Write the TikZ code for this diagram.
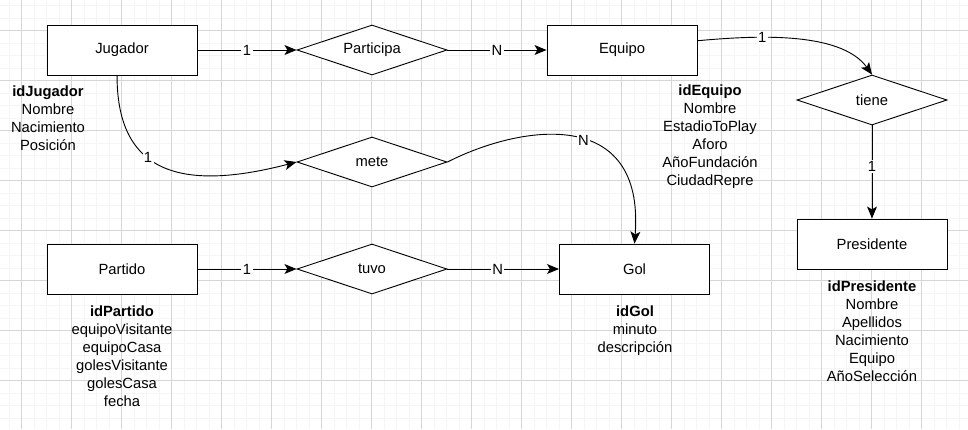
\documentclass[tikz,border=0pt]{standalone}
\usepackage{fontspec}
\setmainfont{Liberation Sans}
\usetikzlibrary{shapes.geometric,arrows.meta}

\colorlet{minorgrid}{black!4}
\colorlet{majorgrid}{black!16}

\tikzset{
    entidad/.style={draw, line width=0.65pt, fill=white, minimum width=3.75cm, minimum height=1.25cm, inner sep=0pt},
    relacion/.style={draw, diamond, aspect=3, line width=0.65pt, fill=white, minimum width=3.75cm, minimum height=1.25cm, inner sep=0pt},
    atributos/.style={align=center, inner sep=0pt},
    card/.style={fill=white, inner sep=1pt},
    flecha/.style={line width=0.65pt, -{Stealth[length=8.5pt, width=7pt, inset=2pt]}},
}

\begin{document}
\begin{tikzpicture}[x=0.025cm, y=-0.025cm, font=\fontsize{10.5}{12.8}\selectfont]
    \useasboundingbox[fill=white] (0,0) rectangle (968,429);

    % grid
    \foreach \gx in {9.2,21.7,...,968} \draw[minorgrid, line width=0.4pt] (\gx,0) -- (\gx,429);
    \foreach \gy in {5.7,18.2,...,429} \draw[minorgrid, line width=0.4pt] (0,\gy) -- (968,\gy);
    \foreach \gx in {21.7,71.7,...,968} \draw[majorgrid, line width=0.4pt] (\gx,0) -- (\gx,429);
    \foreach \gy in {30.7,80.7,...,429} \draw[majorgrid, line width=0.4pt] (0,\gy) -- (968,\gy);

    \node[entidad] (jugador) at (122,50) {Jugador};
    \node[relacion] (participa) at (372,50) {Participa};
    \node[entidad] (equipo) at (622,50) {Equipo};
    \node[relacion] (tiene) at (872,100) {tiene};
    \node[entidad] (presidente) at (872,244) {Presidente};
    \node[relacion] (mete) at (372,162) {mete};
    \node[entidad] (partido) at (122,269) {Partido};
    \node[relacion] (tuvo) at (372,269) {tuvo};
    \node[entidad] (gol) at (634.5,269) {Gol};

    \node[atributos] (atrJugador) at (48,118.5) {\textbf{idJugador}\\Nombre\\Nacimiento\\Posición};
    \node[atributos] (atrEquipo) at (710,137) {\textbf{idEquipo}\\Nombre\\EstadioToPlay\\Aforo\\AñoFundación\\CiudadRepre};
    \node[atributos] (atrPartido) at (122,356.5) {\textbf{idPartido}\\equipoVisitante\\equipoCasa\\golesVisitante\\golesCasa\\fecha};
    \node[atributos] (atrGol) at (635,331) {\textbf{idGol}\\minuto\\descripción};
    \node[atributos] (atrPresidente) at (872,331) {\textbf{idPresidente}\\Nombre\\Apellidos\\Nacimiento\\Equipo\\AñoSelección};

    \draw[flecha] (jugador) -- node[card] {1} (participa);
    \draw[flecha] (participa) -- node[card] {N} (equipo);
    \draw[flecha] (equipo.7) .. controls (750,36) and (840,30) .. node[card, pos=0.35] {1} (tiene.north);
    \draw[flecha] (tiene) -- node[card, pos=0.44] {1} (presidente);
    \draw[flecha] (jugador.-101) .. controls (117,165) and (170,195) .. node[card, pos=0.43] {1} (mete.west);
    \draw[flecha] (mete.east) .. controls (520,125) and (645,105) .. node[card, pos=0.55] {N} (gol.north);
    \draw[flecha] (partido) -- node[card] {1} (tuvo);
    \draw[flecha] (tuvo) -- node[card, pos=0.45] {N} (gol);
\end{tikzpicture}
\end{document}
